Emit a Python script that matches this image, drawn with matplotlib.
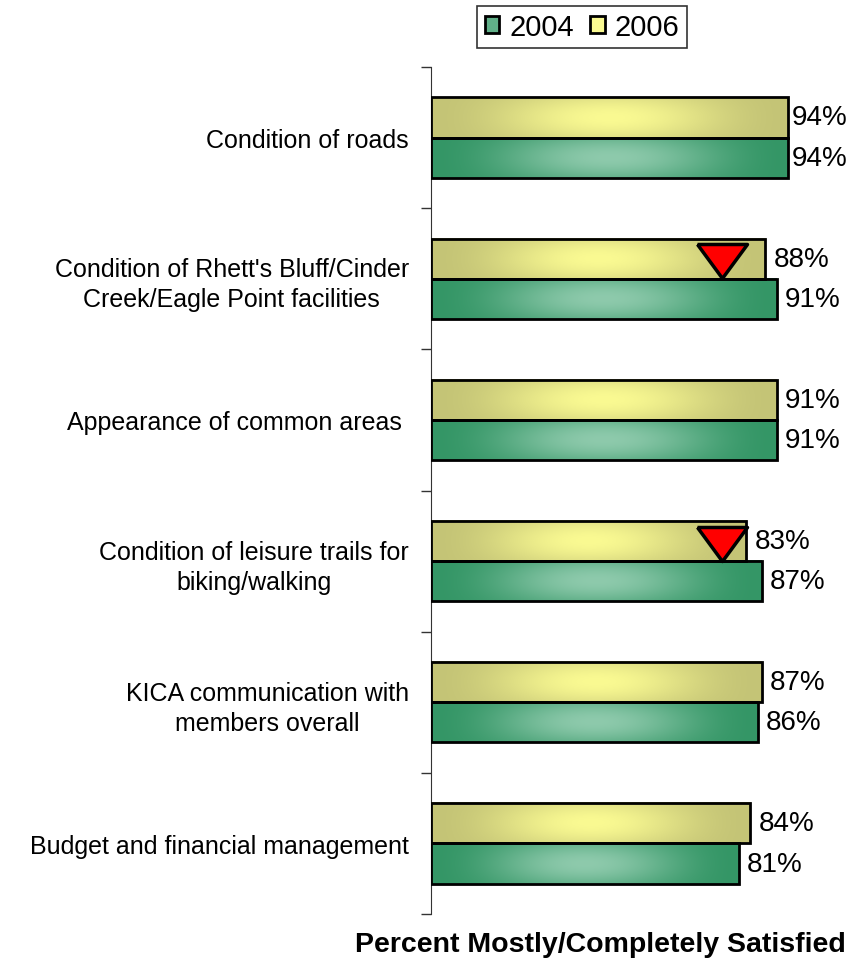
import numpy as np
import matplotlib.pyplot as plt
from matplotlib.patches import Rectangle, Patch

categories = ["Condition of roads",
              "Condition of Rhett's Bluff/Cinder\nCreek/Eagle Point facilities",
              "Appearance of common areas ",
              "Condition of leisure trails for\nbiking/walking",
              "KICA communication with\nmembers overall",
              "Budget and financial management"]
vals_2004 = [94, 91, 91, 87, 86, 81]
vals_2006 = [94, 88, 91, 83, 87, 84]
decline = [False, True, False, True, False, False]  # significant drop since 2004
decline_x = 76.5

edge_2004 = np.array([52, 150, 102]) / 255
mid_2004 = np.array([142, 202, 172]) / 255
edge_2006 = np.array([196, 196, 118]) / 255
mid_2006 = np.array([250, 250, 146]) / 255

FONT = 'Liberation Sans'


def grad_bar(ax, x0, y0, w, h, c_edge, c_mid):
    u = np.linspace(0, 1, 200)
    v = np.linspace(0, 1, 30)
    tx = np.sin(np.pi * u) ** 2
    ty = 0.55 + 0.45 * np.sin(np.pi * v)
    t = np.outer(ty, tx)[..., None]
    img = c_edge + (c_mid - c_edge) * t
    ax.imshow(img, extent=[x0, x0 + w, y0 + h, y0], aspect='auto',
              interpolation='bilinear', zorder=2)
    ax.add_patch(Rectangle((x0, y0), w, h, fill=False, ec='black', lw=2, zorder=3))


# flat downward triangle
tri = [(-1, 0.68), (1, 0.68), (0, -0.68), (-1, 0.68)]

fig = plt.figure(figsize=(8.48, 9.62), dpi=100)
ax = fig.add_axes([431 / 848, 1 - 915 / 962, 380 / 848, 847 / 962])

bh = 0.285
for i in range(len(categories)):
    grad_bar(ax, 0, i - bh, vals_2006[i], bh, edge_2006, mid_2006)
    grad_bar(ax, 0, i, vals_2004[i], bh, edge_2004, mid_2004)
    ax.text(min(vals_2006[i] + 2.2, 95.0), i - bh / 2, f"{vals_2006[i]}%", va='center',
            ha='left', fontsize=20, family=FONT)
    ax.text(min(vals_2004[i] + 2.2, 95.0), i + bh / 2, f"{vals_2004[i]}%", va='center',
            ha='left', fontsize=20, family=FONT)
    if decline[i]:
        ax.plot(decline_x, i - bh / 2 + 0.02, marker=tri, ms=36, mfc='red',
                mec='black', mew=2.5, zorder=4)

ax.set_xlim(0, 100)
ax.set_ylim(len(categories) - 0.5, -0.5)
ax.set_yticks(np.arange(-0.5, len(categories)))
ax.set_yticklabels([])
ax.tick_params(axis='y', direction='out', length=7, width=1, color='#333333')
ax.set_yticks(np.arange(len(categories)), minor=True)
ax.set_yticklabels(categories, minor=True, fontsize=18, family=FONT,
                   multialignment='center', linespacing=1.32)
ax.tick_params(axis='y', which='minor', length=0, pad=16)
ax.set_xticks([])
for s in ['top', 'right', 'bottom']:
    ax.spines[s].set_visible(False)
ax.spines['left'].set_color('#333333')

fig.text(600 / 848, 1 - 945 / 962, "Percent Mostly/Completely Satisfied", ha='center',
         va='center', fontsize=20.5, fontweight='bold', family=FONT)

handles = [Patch(fc=(mid_2004 + edge_2004) / 2, ec='black', lw=2, label='2004'),
           Patch(fc=mid_2006, ec='black', lw=2, label='2006')]
leg = fig.legend(handles=handles, loc='center', bbox_to_anchor=(582 / 848, 1 - 28 / 962),
                 ncol=2, frameon=True, fancybox=False, edgecolor='black',
                 prop={'family': FONT, 'size': 21}, handlelength=0.5,
                 handleheight=0.5, handletextpad=0.35, columnspacing=0.55,
                 borderpad=0.25, borderaxespad=0)
leg.get_frame().set_linewidth(1.2)

fig.savefig("out.png", dpi=100)
